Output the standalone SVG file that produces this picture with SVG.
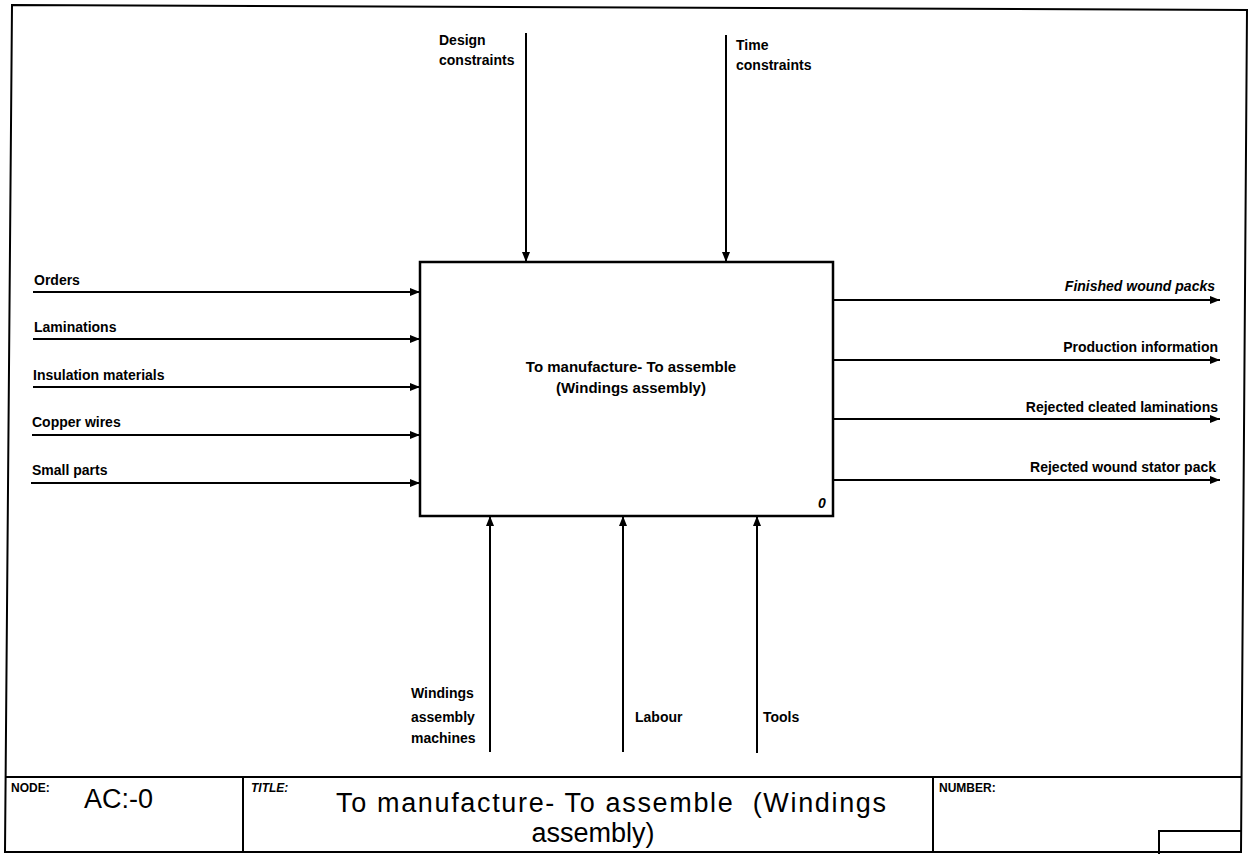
<svg xmlns="http://www.w3.org/2000/svg" width="1253" height="854" viewBox="0 0 1253 854">
  <style>
    .frame { fill: none; stroke: #000; stroke-width: 2; }
    .box { fill: #fff; stroke: #000; stroke-width: 2.5; }
    .flow { fill: none; stroke: #000; stroke-width: 2; }
    .lbl { font-family: "Liberation Sans", Arial, sans-serif; font-size: 14px; font-weight: bold; fill: #000; }
    .name { font-family: "Liberation Sans", Arial, sans-serif; font-size: 15px; font-weight: bold; fill: #000; }
    .small { font-family: "Liberation Sans", Arial, sans-serif; font-size: 12px; font-weight: bold; fill: #000; }
    .big { font-family: "Liberation Sans", Arial, sans-serif; font-size: 27px; fill: #000; }
  </style>
  <defs>
    <marker id="arrow" viewBox="0 0 10 8" refX="10" refY="4" markerWidth="10" markerHeight="8" markerUnits="userSpaceOnUse" orient="auto">
      <path d="M0,0 L10,4 L0,8 Z" fill="#000"/>
    </marker>
  </defs>
  <rect width="1253" height="854" fill="#fff"/>

  <!-- sheet border and title block -->
  <g id="sheet">
    <path class="frame" d="M12,5 L1247,10 L1241,852 L5,852 Z"/>
    <line class="frame" x1="5" y1="777" x2="1242" y2="777"/>
    <line class="frame" x1="243" y1="777" x2="243" y2="852"/>
    <line class="frame" x1="933" y1="777" x2="933" y2="852"/>
    <polyline class="frame" points="1159,854 1159,831 1241,831"/>
    <text class="small" x="11" y="792">NODE:</text>
    <text class="big" x="84" y="808">AC:-0</text>
    <text class="small" x="251" y="792" font-style="italic">TITLE:</text>
    <text class="big" x="336" y="812" textLength="550" lengthAdjust="spacing" xml:space="preserve">To manufacture- To assemble  (Windings</text>
    <text class="big" x="593" y="842" text-anchor="middle">assembly)</text>
    <text class="small" x="939" y="792">NUMBER:</text>
  </g>

  <!-- activity -->
  <g id="activity-0">
    <rect class="box" x="420" y="262" width="413" height="254"/>
    <text class="name" x="631" y="372" text-anchor="middle">To manufacture- To assemble</text>
    <text class="name" x="631" y="393" text-anchor="middle">(Windings assembly)</text>
    <text class="lbl" x="818" y="508" font-style="italic">0</text>
  </g>

  <!-- arrows -->
  <g id="connectors">
    <!-- inputs -->
    <line class="flow" x1="33" y1="292" x2="420" y2="292" marker-end="url(#arrow)"/>
    <line class="flow" x1="33" y1="339" x2="420" y2="339" marker-end="url(#arrow)"/>
    <line class="flow" x1="33" y1="387" x2="420" y2="387" marker-end="url(#arrow)"/>
    <line class="flow" x1="32" y1="435" x2="420" y2="435" marker-end="url(#arrow)"/>
    <line class="flow" x1="31" y1="483" x2="420" y2="483" marker-end="url(#arrow)"/>
    <!-- controls -->
    <line class="flow" x1="526" y1="33" x2="526" y2="262" marker-end="url(#arrow)"/>
    <line class="flow" x1="726" y1="35" x2="726" y2="262" marker-end="url(#arrow)"/>
    <!-- outputs -->
    <line class="flow" x1="833" y1="300" x2="1220" y2="300" marker-end="url(#arrow)"/>
    <line class="flow" x1="833" y1="360" x2="1220" y2="360" marker-end="url(#arrow)"/>
    <line class="flow" x1="833" y1="419" x2="1220" y2="419" marker-end="url(#arrow)"/>
    <line class="flow" x1="833" y1="480" x2="1220" y2="480" marker-end="url(#arrow)"/>
    <!-- mechanisms -->
    <line class="flow" x1="490" y1="752" x2="490" y2="516" marker-end="url(#arrow)"/>
    <line class="flow" x1="623" y1="752" x2="623" y2="516" marker-end="url(#arrow)"/>
    <line class="flow" x1="757" y1="753" x2="757" y2="516" marker-end="url(#arrow)"/>
  </g>

  <!-- arrow labels -->
  <g id="labels">
    <text class="lbl" x="34" y="285">Orders</text>
    <text class="lbl" x="34" y="332">Laminations</text>
    <text class="lbl" x="33" y="380">Insulation materials</text>
    <text class="lbl" x="32" y="427">Copper wires</text>
    <text class="lbl" x="32" y="475">Small parts</text>

    <text class="lbl" x="439" y="45">Design</text>
    <text class="lbl" x="439" y="65">constraints</text>
    <text class="lbl" x="736" y="50">Time</text>
    <text class="lbl" x="736" y="70">constraints</text>

    <text class="lbl" x="1215" y="291" text-anchor="end" font-style="italic">Finished wound packs</text>
    <text class="lbl" x="1218" y="352" text-anchor="end">Production information</text>
    <text class="lbl" x="1218" y="412" text-anchor="end">Rejected cleated laminations</text>
    <text class="lbl" x="1216" y="472" text-anchor="end">Rejected wound stator pack</text>

    <text class="lbl" x="411" y="698">Windings</text>
    <text class="lbl" x="411" y="722">assembly</text>
    <text class="lbl" x="411" y="743">machines</text>
    <text class="lbl" x="635" y="722">Labour</text>
    <text class="lbl" x="763" y="722">Tools</text>
  </g>
</svg>
